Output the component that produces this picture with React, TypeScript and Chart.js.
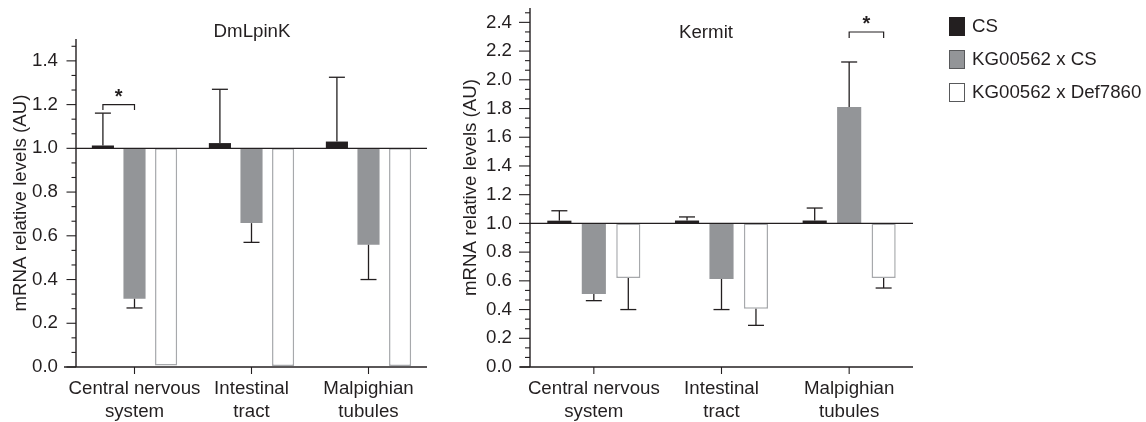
import React, { useEffect, useRef } from 'react';
import { Chart, registerables } from 'chart.js';

Chart.register(...registerables);

// ---------- data ----------
const categories = [['Central nervous', 'system'], ['Intestinal', 'tract'], ['Malpighian', 'tubules']];
const seriesNames = ['CS', 'KG00562 x CS', 'KG00562 x Def7860'];
const seriesColors = ['#231f20', '#939598', '#ffffff'];
const seriesBorders = ['#231f20', '#939598', '#a7a9ac'];
const baseline = 1.0;

// DmLpinK panel
const dmTitle = 'DmLpinK';
const dmCS = [1.013, 1.024, 1.031];
const dmKGxCS = [0.312, 0.658, 0.559];
const dmKGxDef = [0.007, 0.005, 0.005];
const dmCSErr = [1.161, 1.27, 1.325];
const dmKGxCSErr = [0.27, 0.57, 0.4];
const dmKGxDefErr: (number | null)[] = [null, null, null];
const dmYMax = 1.5;
const dmSig = { category: 0, from: 0, to: 1, level: 1.2, drop: 0.025, star: 1.255 };

// Kermit panel
const keTitle = 'Kermit';
const keCS = [1.019, 1.02, 1.02];
const keKGxCS = [0.508, 0.613, 1.811];
const keKGxDef = [0.62, 0.406, 0.62];
const keCSErr = [1.088, 1.045, 1.107];
const keKGxCSErr = [0.462, 0.4, 2.124];
const keKGxDefErr = [0.4, 0.29, 0.55];
const keYMax = 2.5;
const keSig = { category: 2, from: 1, to: 2, level: 2.333, drop: 0.042, star: 2.414 };

const yAxisTitle = 'mRNA relative levels (AU)';
const majorStep = 0.2;
const minorPerMajor = 3;

const FONT = "'Liberation Sans', Arial, Helvetica, sans-serif";
const INK = '#231f20';
const FS = 18.7;

Chart.defaults.font.family = FONT;
Chart.defaults.color = INK;

function makeDatasets(values: number[][]) {
  return values.map((vals, si) => ({
    label: seriesNames[si],
    data: vals.map((v) => [baseline, v]),
    backgroundColor: seriesColors[si],
    borderColor: seriesBorders[si],
    borderWidth: si === 2 ? 1.5 : 0,
    borderSkipped: false,
    categoryPercentage: 0.81,
    barPercentage: 0.7,
  }));
}

function line(ctx: CanvasRenderingContext2D, x1: number, y1: number, x2: number, y2: number) {
  ctx.beginPath();
  ctx.moveTo(x1, y1);
  ctx.lineTo(x2, y2);
  ctx.stroke();
}

const decorPlugin = {
  id: 'decor',
  afterDatasetsDraw(chart: any, _args: any, opts: any) {
    const { ctx, chartArea } = chart;
    const x = chart.scales.x;
    const y = chart.scales.y;
    ctx.save();
    ctx.strokeStyle = INK;
    ctx.lineWidth = 1.3;
    ctx.lineCap = 'butt';

    // baseline at 1.0
    const yb = y.getPixelForValue(baseline);
    line(ctx, chartArea.left, yb, chartArea.right, yb);

    // error bars
    (opts.errors as (number | null)[][]).forEach((errs, di) => {
      const meta = chart.getDatasetMeta(di);
      errs.forEach((ev, i) => {
        if (ev == null) return;
        const bar = meta.data[i];
        const end = (chart.data.datasets[di].data[i] as number[])[1];
        const y0 = y.getPixelForValue(end);
        const y1 = y.getPixelForValue(ev);
        line(ctx, bar.x, y0, bar.x, y1);
        line(ctx, bar.x - opts.cap / 2, y1, bar.x + opts.cap / 2, y1);
      });
    });

    // axes
    ctx.lineWidth = 1.4;
    line(ctx, chartArea.left, y.getPixelForValue(y.max), chartArea.left, chartArea.bottom);
    line(ctx, chartArea.left - opts.xExtend, chartArea.bottom, chartArea.right, chartArea.bottom);

    // y ticks (major + minor)
    ctx.lineWidth = 1.1;
    const minorStep = majorStep / minorPerMajor;
    const n = Math.floor(y.max / minorStep + 1e-6);
    for (let k = 0; k <= n; k++) {
      const py = y.getPixelForValue(k * minorStep);
      const len = k % minorPerMajor === 0 ? opts.majorLen : opts.minorLen;
      line(ctx, chartArea.left - len, py, chartArea.left, py);
    }
    // x ticks
    categories.forEach((_, i) => {
      const px = x.getPixelForValue(i);
      line(ctx, px, chartArea.bottom, px, chartArea.bottom + 7);
    });

    // significance bracket
    const s = opts.sig;
    const xa = chart.getDatasetMeta(s.from).data[s.category].x;
    const xb = chart.getDatasetMeta(s.to).data[s.category].x;
    const ys = y.getPixelForValue(s.level);
    const yd = y.getPixelForValue(s.level - s.drop);
    ctx.lineWidth = 1.2;
    ctx.beginPath();
    ctx.moveTo(xa, yd);
    ctx.lineTo(xa, ys);
    ctx.lineTo(xb, ys);
    ctx.lineTo(xb, yd);
    ctx.stroke();
    ctx.fillStyle = INK;
    ctx.font = `bold 20px ${FONT}`;
    ctx.textAlign = 'center';
    ctx.textBaseline = 'alphabetic';
    ctx.fillText('*', (xa + xb) / 2, y.getPixelForValue(s.star) + 0.5 * 20);

    // panel title
    ctx.font = `${FS}px ${FONT}`;
    ctx.fillText(opts.title, opts.titleX, opts.titleY);

    // legend
    if (opts.legend) {
      const lg = opts.legend;
      seriesNames.forEach((name, i) => {
        const top = lg.y + i * lg.step;
        ctx.fillStyle = seriesColors[i];
        ctx.fillRect(lg.x, top, 16, 19);
        ctx.strokeStyle = i === 0 ? INK : '#58595b';
        ctx.lineWidth = 1;
        ctx.strokeRect(lg.x + 0.5, top + 0.5, 15, 18);
        ctx.fillStyle = INK;
        ctx.textAlign = 'left';
        ctx.textBaseline = 'middle';
        ctx.fillText(name, lg.x + 23, top + 10);
      });
    }
    ctx.restore();
  },
};

function makeConfig(p: {
  values: number[][];
  errors: (number | null)[][];
  yMax: number;
  axisWidth: number;
  padding: { top: number; right: number };
  titlePad: number;
  decor: any;
}): any {
  return {
    type: 'bar',
    data: { labels: categories, datasets: makeDatasets(p.values) },
    plugins: [decorPlugin],
    options: {
      responsive: false,
      maintainAspectRatio: false,
      animation: false,
      devicePixelRatio: 1,
      layout: { padding: { left: 0, right: p.padding.right, top: p.padding.top, bottom: 0 } },
      plugins: {
        legend: { display: false },
        tooltip: { enabled: false },
        title: { display: false },
        decor: { ...p.decor, errors: p.errors },
      },
      scales: {
        x: {
          type: 'category',
          offset: true,
          grid: { display: false, drawTicks: false },
          border: { display: false },
          ticks: { font: { size: FS }, padding: 11, maxRotation: 0, autoSkip: false, color: INK },
          afterFit: (s: any) => {
            s.height = 55;
            s.paddingLeft = 0;
            s.paddingRight = 0;
          },
        },
        y: {
          type: 'linear',
          min: 0,
          max: p.yMax,
          grid: { display: false, drawTicks: false },
          border: { display: false },
          ticks: {
            stepSize: majorStep,
            includeBounds: false,
            padding: 18,
            font: { size: FS },
            color: INK,
            callback: (v: number) => Number(v).toFixed(1),
          },
          title: {
            display: true,
            text: yAxisTitle,
            font: { size: FS },
            color: INK,
            padding: { top: p.titlePad, bottom: 0 },
          },
          afterFit: (s: any) => {
            s.width = p.axisWidth;
            s.paddingTop = 0;
            s.paddingBottom = 0;
          },
        },
      },
    },
  };
}

export default function App() {
  const leftRef = useRef<HTMLCanvasElement>(null);
  const rightRef = useRef<HTMLCanvasElement>(null);

  useEffect(() => {
    const c1 = new Chart(
      leftRef.current!,
      makeConfig({
        values: [dmCS, dmKGxCS, dmKGxDef],
        errors: [dmCSErr, dmKGxCSErr, dmKGxDefErr],
        yMax: dmYMax,
        axisWidth: 76,
        padding: { top: 39, right: 13 },
        titlePad: 10,
        decor: {
          cap: 16,
          xExtend: 12,
          majorLen: 9.5,
          minorLen: 4.5,
          sig: dmSig,
          title: dmTitle,
          titleX: 252,
          titleY: 37,
        },
      })
    );
    const c2 = new Chart(
      rightRef.current!,
      makeConfig({
        values: [keCS, keKGxCS, keKGxDef],
        errors: [keCSErr, keKGxCSErr, keKGxDefErr],
        yMax: keYMax,
        axisWidth: 90,
        padding: { top: 8, right: 233 },
        titlePad: 20,
        decor: {
          cap: 16,
          xExtend: 10,
          majorLen: 11,
          minorLen: 5,
          sig: keSig,
          title: keTitle,
          titleX: 266,
          titleY: 37.5,
          legend: { x: 509, y: 17, step: 33 },
        },
      })
    );
    return () => {
      c1.destroy();
      c2.destroy();
    };
  }, []);

  return (
    <div style={{ position: 'fixed', left: 0, top: 0, width: 1146, height: 422, background: '#fff' }}>
      <canvas ref={leftRef} width={440} height={422} style={{ position: 'absolute', left: 0, top: 0 }} />
      <canvas ref={rightRef} width={706} height={422} style={{ position: 'absolute', left: 440, top: 0 }} />
    </div>
  );
}
